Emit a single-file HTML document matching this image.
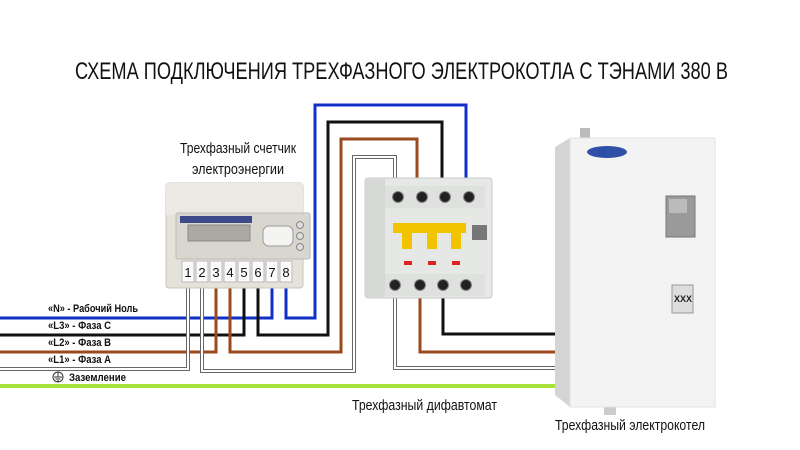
<!DOCTYPE html>
<html><head><meta charset="utf-8"><style>
html,body{margin:0;padding:0;background:#fff;width:800px;height:450px;overflow:hidden}
svg text{font-family:"Liberation Sans","DejaVu Sans",sans-serif}
</style></head><body>
<svg width="800" height="450" viewBox="0 0 800 450" xmlns="http://www.w3.org/2000/svg">
<rect width="800" height="450" fill="#fff"/>
<text x="75" y="79" font-size="24" textLength="653" lengthAdjust="spacingAndGlyphs" fill="#111">СХЕМА ПОДКЛЮЧЕНИЯ ТРЕХФАЗНОГО ЭЛЕКТРОКОТЛА С ТЭНАМИ 380 В</text>

<line x1="0" y1="386" x2="560" y2="386" stroke="#a6e03a" stroke-width="4"/>
<g fill="none" stroke-linejoin="miter">
<path d="M0 318 H272 V275" stroke="#1030c8" stroke-width="3"/>
<path d="M0 335 H244 V275" stroke="#111" stroke-width="3"/>
<path d="M0 352 H216 V275" stroke="#9a4a1c" stroke-width="3"/>
<path d="M0 369 H188 V275" stroke="#666" stroke-width="4"/>
<path d="M0 369 H188 V275" stroke="#fff" stroke-width="2"/>
<path d="M286 275 V318 H315 V105 H466 V195" stroke="#1030c8" stroke-width="3"/>
<path d="M258 275 V335 H328 V122 H442 V195" stroke="#111" stroke-width="3"/>
<path d="M230 275 V352 H341 V139 H417 V195" stroke="#9a4a1c" stroke-width="3"/>
<path d="M202 275 V371 H354 V157 H395 V195" stroke="#666" stroke-width="4"/>
<path d="M202 275 V371 H354 V157 H395 V195" stroke="#fff" stroke-width="2"/>
<path d="M443 285 V334 H560" stroke="#111" stroke-width="3"/>
<path d="M420 285 V352 H560" stroke="#9a4a1c" stroke-width="3"/>
<path d="M395 285 V368 H560" stroke="#666" stroke-width="4"/>
<path d="M395 285 V368 H560" stroke="#fff" stroke-width="2"/>
</g>

<g font-size="11" font-weight="bold" fill="#111">
<text x="48" y="312" textLength="90" lengthAdjust="spacingAndGlyphs">«N» - Рабочий Ноль</text>
<text x="48" y="329" textLength="63" lengthAdjust="spacingAndGlyphs">«L3» - Фаза С</text>
<text x="48" y="346" textLength="63" lengthAdjust="spacingAndGlyphs">«L2» - Фаза В</text>
<text x="48" y="363" textLength="63" lengthAdjust="spacingAndGlyphs">«L1» - Фаза А</text>
<text x="69" y="381" textLength="57" lengthAdjust="spacingAndGlyphs">Заземление</text>
</g>
<circle cx="58" cy="377" r="5" fill="#fff" stroke="#333" stroke-width="1"/>
<path d="M58 372 V377 M54 377 H62 M55.5 379 H60.5 M57 381 H59" stroke="#333" stroke-width="1"/>

<text x="180" y="153" font-size="15" textLength="116" lengthAdjust="spacingAndGlyphs" fill="#111">Трехфазный счетчик</text>
<text x="192" y="174" font-size="15" textLength="92" lengthAdjust="spacingAndGlyphs" fill="#111">электроэнергии</text>
<text x="352" y="410" font-size="15" textLength="145" lengthAdjust="spacingAndGlyphs" fill="#111">Трехфазный дифавтомат</text>
<text x="555" y="430" font-size="15" textLength="150" lengthAdjust="spacingAndGlyphs" fill="#111">Трехфазный электрокотел</text>

<rect x="166" y="183" width="137" height="105" rx="3" fill="#e4e2da" stroke="#c9c6bc"/>
<rect x="166" y="183" width="137" height="32" fill="#ebe9e2"/>
<rect x="176" y="213" width="134" height="46" rx="2" fill="#d8d6cf" stroke="#bdbab0"/>
<rect x="180" y="216" width="72" height="7" fill="#3c4a8a"/>
<rect x="188" y="225" width="62" height="16" fill="#aaa9a4" stroke="#888"/>
<rect x="263" y="226" width="30" height="20" rx="6" fill="#f4f4f2" stroke="#999"/>
<circle cx="300" cy="225" r="3.5" fill="#ddd" stroke="#888"/>
<circle cx="300" cy="236" r="3.5" fill="#ddd" stroke="#888"/>
<circle cx="300" cy="247" r="3.5" fill="#ddd" stroke="#888"/>
<g fill="#fafafa" stroke="#bbb">
<rect x="182" y="261" width="12" height="21"/><rect x="196" y="261" width="12" height="21"/>
<rect x="210" y="261" width="12" height="21"/><rect x="224" y="261" width="12" height="21"/>
<rect x="238" y="261" width="12" height="21"/><rect x="252" y="261" width="12" height="21"/>
<rect x="266" y="261" width="12" height="21"/><rect x="280" y="261" width="12" height="21"/>
</g>
<g font-size="13" fill="#111" text-anchor="middle">
<text x="188" y="277">1</text><text x="202" y="277">2</text><text x="216" y="277">3</text><text x="230" y="277">4</text>
<text x="244" y="277">5</text><text x="258" y="277">6</text><text x="272" y="277">7</text><text x="286" y="277">8</text>
</g>

<rect x="365" y="178" width="127" height="120" rx="3" fill="#e6e8e6" stroke="#c8cac8"/>
<rect x="365" y="178" width="20" height="120" fill="#d6d8d6"/>
<rect x="385" y="186" width="100" height="22" fill="#dfe1df"/>
<rect x="385" y="274" width="100" height="22" fill="#dfe1df"/>
<g fill="#222" stroke="#888">
<circle cx="398" cy="197" r="5.5"/><circle cx="422" cy="197" r="5.5"/><circle cx="445" cy="197" r="5.5"/><circle cx="469" cy="197" r="5.5"/>
<circle cx="395" cy="285" r="5.5"/><circle cx="420" cy="285" r="5.5"/><circle cx="443" cy="285" r="5.5"/><circle cx="466" cy="285" r="5.5"/>
</g>
<rect x="393" y="223" width="73" height="10" fill="#f2c400"/>
<g fill="#f2c400"><rect x="402" y="233" width="10" height="16"/><rect x="427" y="233" width="10" height="16"/><rect x="451" y="233" width="10" height="16"/></g>
<rect x="472" y="225" width="15" height="15" fill="#777"/>
<g fill="#d22"><rect x="404" y="261" width="8" height="4"/><rect x="428" y="261" width="8" height="4"/><rect x="452" y="261" width="8" height="4"/></g>

<rect x="580" y="128" width="10" height="11" fill="#bbb"/>
<rect x="604" y="405" width="12" height="10" fill="#ccc"/>
<polygon points="555,147 570,138 570,407 555,395" fill="#d4d4d4"/>
<rect x="570" y="138" width="145" height="269" fill="#f3f3f3" stroke="#e0e0e0"/>
<ellipse cx="607" cy="152" rx="20" ry="6" fill="#3050a8"/>
<rect x="666" y="196" width="29" height="41" fill="#9a9a9a" stroke="#777"/>
<rect x="669" y="199" width="18" height="14" fill="#bbb"/>
<rect x="672" y="285" width="21" height="28" fill="#ddd" stroke="#999"/>
<text x="674" y="302" font-size="9" font-weight="bold" fill="#222">XXX</text>
</svg>
</body></html>
